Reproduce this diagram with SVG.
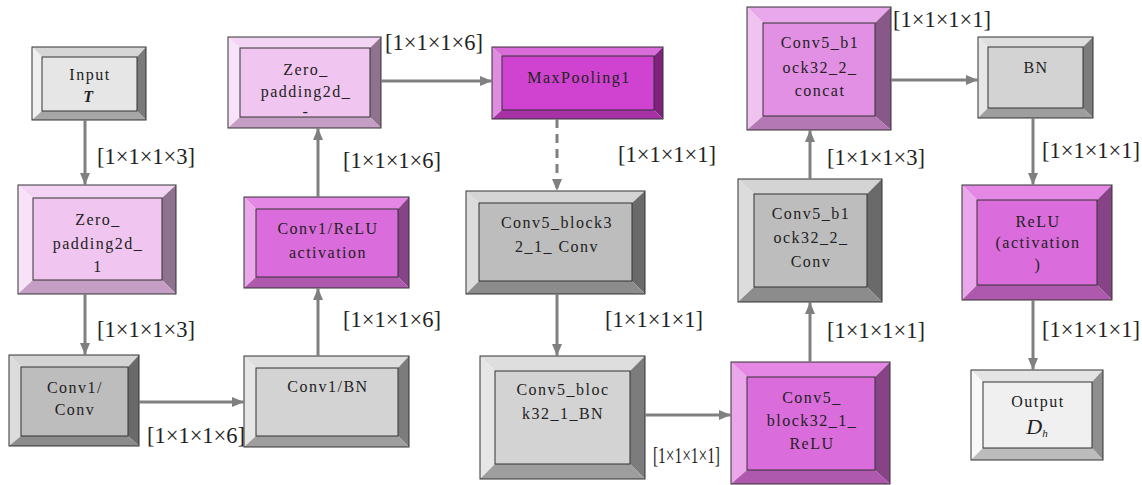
<svg xmlns="http://www.w3.org/2000/svg" width="1142" height="485" viewBox="0 0 1142 485">
<defs>
<marker id="ah" markerUnits="userSpaceOnUse" markerWidth="14" markerHeight="12" refX="12" refY="5" orient="auto">
<path d="M0,0 L12,5 L0,10 z" fill="#808080"/>
</marker>
<style>
text{font-family:'Liberation Serif','Times New Roman',serif}
.t{font-size:16px;fill:#222;text-anchor:middle;letter-spacing:1.5px}
.lb{font-size:22.5px;fill:#222}
.ed{stroke:#333;stroke-width:1;fill:none}
.cn path{stroke:#808080;stroke-width:3;fill:none;marker-end:url(#ah)}
.wg .f{fill:#e6e6e6}.wg .tp{fill:#d6d6d6}.wg .l{fill:#f0f0f0}.wg .r{fill:#7a7a7a}.wg .b{fill:#a6a6a6}
.pk .f{fill:#f0c6f0}.pk .tp{fill:#f4d4f4}.pk .l{fill:#f8e2f8}.pk .r{fill:#8e728e}.pk .b{fill:#c49ec4}
.dg .f{fill:#bdbdbd}.dg .tp{fill:#d4d4d4}.dg .l{fill:#dcdcdc}.dg .r{fill:#6a6a6a}.dg .b{fill:#8c8c8c}
.lg .f{fill:#d3d3d3}.lg .tp{fill:#dedede}.lg .l{fill:#e6e6e6}.lg .r{fill:#7c7c7c}.lg .b{fill:#9e9e9e}
.mg .f{fill:#db6cdb}.mg .tp{fill:#e588e5}.mg .l{fill:#eaa8ea}.mg .r{fill:#864486}.mg .b{fill:#ae58ae}
.mp .f{fill:#d042d0}.mp .tp{fill:#da6cda}.mp .l{fill:#e08ce0}.mp .r{fill:#7e227e}.mp .b{fill:#a632a6}
.cc .f{fill:#e290e4}.cc .tp{fill:#e9a8ec}.cc .l{fill:#f0c2f0}.cc .r{fill:#885888}.cc .b{fill:#b478b4}
.ow .f{fill:#f0f0f0}.ow .tp{fill:#e4e4e4}.ow .l{fill:#f8f8f8}.ow .r{fill:#8e8e8e}.ow .b{fill:#bcbcbc}
</style>
</defs>
<rect width="1142" height="485" fill="#fff"/>

<g id="input" class="wg">
<polygon class="tp" points="32,47 146,47 137,57 42,57"/><polygon class="l" points="32,47 42,57 42,111 32,120"/><polygon class="r" points="146,47 146,120 137,111 137,57"/><polygon class="b" points="32,120 42,111 137,111 146,120"/>
<rect class="f" x="42" y="57" width="95" height="54"/><rect class="ed" x="32" y="47" width="114" height="73"/><rect class="ed" x="42" y="57" width="95" height="54"/>
<text class="t" x="90" y="80">Input</text><text class="t" x="89" y="102" style="font-style:italic;font-weight:bold">T</text>
</g>

<g id="zp1" class="pk">
<polygon class="tp" points="18,185 176,185 162,198 33,198"/><polygon class="l" points="18,185 33,198 33,280 18,294"/><polygon class="r" points="176,185 176,294 162,280 162,198"/><polygon class="b" points="18,294 33,280 162,280 176,294"/>
<rect class="f" x="33" y="198" width="129" height="82"/><rect class="ed" x="18" y="185" width="158" height="109"/><rect class="ed" x="33" y="198" width="129" height="82"/>
<text class="t" x="98" y="225">Zero_</text><text class="t" x="98" y="249">padding2d_</text><text class="t" x="98" y="272">1</text>
</g>

<g id="conv1" class="dg">
<polygon class="tp" points="9,355 139,355 128,367 21,367"/><polygon class="l" points="9,355 21,367 21,436 9,446"/><polygon class="r" points="139,355 139,446 128,436 128,367"/><polygon class="b" points="9,446 21,436 128,436 139,446"/>
<rect class="f" x="21" y="367" width="107" height="69"/><rect class="ed" x="9" y="355" width="130" height="91"/><rect class="ed" x="21" y="367" width="107" height="69"/>
<text class="t" x="75" y="393">Conv1/</text><text class="t" x="75" y="415">Conv</text>
</g>

<g id="bn1" class="lg">
<polygon class="tp" points="244,356 409,356 398,368 256,368"/><polygon class="l" points="244,356 256,368 256,436 244,447"/><polygon class="r" points="409,356 409,447 398,436 398,368"/><polygon class="b" points="244,447 256,436 398,436 409,447"/>
<rect class="f" x="256" y="368" width="142" height="68"/><rect class="ed" x="244" y="356" width="165" height="91"/><rect class="ed" x="256" y="368" width="142" height="68"/>
<text class="t" x="328" y="392">Conv1/BN</text>
</g>

<g id="relu1" class="mg">
<polygon class="tp" points="244,197 409,197 398,209 256,209"/><polygon class="l" points="244,197 256,209 256,277 244,288"/><polygon class="r" points="409,197 409,288 398,277 398,209"/><polygon class="b" points="244,288 256,277 398,277 409,288"/>
<rect class="f" x="256" y="209" width="142" height="68"/><rect class="ed" x="244" y="197" width="165" height="91"/><rect class="ed" x="256" y="209" width="142" height="68"/>
<text class="t" x="328" y="234">Conv1/ReLU</text><text class="t" x="328" y="258">activation</text>
</g>

<g id="zp2" class="pk">
<polygon class="tp" points="228,37 381,37 370,48 240,48"/><polygon class="l" points="228,37 240,48 240,117 228,128"/><polygon class="r" points="381,37 381,128 370,117 370,48"/><polygon class="b" points="228,128 240,117 370,117 381,128"/>
<rect class="f" x="240" y="48" width="130" height="69"/><rect class="ed" x="228" y="37" width="153" height="91"/><rect class="ed" x="240" y="48" width="130" height="69"/>
<text class="t" x="306" y="75">Zero_</text><text class="t" x="306" y="97">padding2d_</text><text class="t" x="306" y="117">-</text>
</g>

<g id="maxpool" class="mp">
<polygon class="tp" points="492,47 663,47 654,56 502,56"/><polygon class="l" points="492,47 502,56 502,110 492,119"/><polygon class="r" points="663,47 663,119 654,110 654,56"/><polygon class="b" points="492,119 502,110 654,110 663,119"/>
<rect class="f" x="502" y="56" width="152" height="54"/><rect class="ed" x="492" y="47" width="171" height="72"/><rect class="ed" x="502" y="56" width="152" height="54"/>
<text class="t" x="579" y="83">MaxPooling1</text>
</g>

<g id="c5conv1" class="dg">
<polygon class="tp" points="466,191 645,191 632,203 479,203"/><polygon class="l" points="466,191 479,203 479,281 466,294"/><polygon class="r" points="645,191 645,294 632,281 632,203"/><polygon class="b" points="466,294 479,281 632,281 645,294"/>
<rect class="f" x="479" y="203" width="153" height="78"/><rect class="ed" x="466" y="191" width="179" height="103"/><rect class="ed" x="479" y="203" width="153" height="78"/>
<text class="t" x="557" y="228">Conv5_block3</text><text class="t" x="557" y="252">2_1_ Conv</text>
</g>

<g id="c5bn1" class="lg">
<polygon class="tp" points="480,356 645,356 630,371 495,371"/><polygon class="l" points="480,356 495,371 495,464 480,479"/><polygon class="r" points="645,356 645,479 630,464 630,371"/><polygon class="b" points="480,479 495,464 630,464 645,479"/>
<rect class="f" x="495" y="371" width="135" height="93"/><rect class="ed" x="480" y="356" width="165" height="123"/><rect class="ed" x="495" y="371" width="135" height="93"/>
<text class="t" x="563" y="395">Conv5_bloc</text><text class="t" x="563" y="419">k32_1_BN</text>
</g>

<g id="c5relu1" class="mg">
<polygon class="tp" points="731,362 890,362 875,377 747,377"/><polygon class="l" points="731,362 747,377 747,470 731,484"/><polygon class="r" points="890,362 890,484 875,470 875,377"/><polygon class="b" points="731,484 747,470 875,470 890,484"/>
<rect class="f" x="747" y="377" width="128" height="93"/><rect class="ed" x="731" y="362" width="159" height="122"/><rect class="ed" x="747" y="377" width="128" height="93"/>
<text class="t" x="812" y="403">Conv5_</text><text class="t" x="812" y="426">block32_1_</text><text class="t" x="812" y="449">ReLU</text>
</g>

<g id="c5conv2" class="dg">
<polygon class="tp" points="738,179 882,179 867,194 754,194"/><polygon class="l" points="738,179 754,194 754,287 738,302"/><polygon class="r" points="882,179 882,302 867,287 867,194"/><polygon class="b" points="738,302 754,287 867,287 882,302"/>
<rect class="f" x="754" y="194" width="113" height="93"/><rect class="ed" x="738" y="179" width="144" height="123"/><rect class="ed" x="754" y="194" width="113" height="93"/>
<text class="t" x="811" y="219">Conv5_b1</text><text class="t" x="811" y="243">ock32_2_</text><text class="t" x="811" y="267">Conv</text>
</g>

<g id="concat" class="cc">
<polygon class="tp" points="747,7 891,7 875,23 763,23"/><polygon class="l" points="747,7 763,23 763,116 747,130"/><polygon class="r" points="891,7 891,130 875,116 875,23"/><polygon class="b" points="747,130 763,116 875,116 891,130"/>
<rect class="f" x="763" y="23" width="112" height="93"/><rect class="ed" x="747" y="7" width="144" height="123"/><rect class="ed" x="763" y="23" width="112" height="93"/>
<text class="t" x="820" y="48">Conv5_b1</text><text class="t" x="820" y="73">ock32_2_</text><text class="t" x="820" y="96">concat</text>
</g>

<g id="bn2" class="lg">
<polygon class="tp" points="978,37 1093,37 1083,47 988,47"/><polygon class="l" points="978,37 988,47 988,108 978,118"/><polygon class="r" points="1093,37 1093,118 1083,108 1083,47"/><polygon class="b" points="978,118 988,108 1083,108 1093,118"/>
<rect class="f" x="988" y="47" width="95" height="61"/><rect class="ed" x="978" y="37" width="115" height="81"/><rect class="ed" x="988" y="47" width="95" height="61"/>
<text class="t" x="1036" y="73">BN</text>
</g>

<g id="relu2" class="mg">
<polygon class="tp" points="962,185 1112,185 1097,200 977,200"/><polygon class="l" points="962,185 977,200 977,285 962,300"/><polygon class="r" points="1112,185 1112,300 1097,285 1097,200"/><polygon class="b" points="962,300 977,285 1097,285 1112,300"/>
<rect class="f" x="977" y="200" width="120" height="85"/><rect class="ed" x="962" y="185" width="150" height="115"/><rect class="ed" x="977" y="200" width="120" height="85"/>
<text class="t" x="1038" y="227">ReLU</text><text class="t" x="1038" y="248">(activation</text><text class="t" x="1038" y="270">)</text>
</g>

<g id="output" class="ow">
<polygon class="tp" points="971,370 1103,370 1092,382 983,382"/><polygon class="l" points="971,370 983,382 983,448 971,460"/><polygon class="r" points="1103,370 1103,460 1092,448 1092,382"/><polygon class="b" points="971,460 983,448 1092,448 1103,460"/>
<rect class="f" x="983" y="382" width="109" height="66"/><rect class="ed" x="971" y="370" width="132" height="90"/><rect class="ed" x="983" y="382" width="109" height="66"/>
<text class="t" x="1038" y="407">Output</text>
<text x="1037" y="434" font-size="22" font-style="italic" fill="#222" text-anchor="middle">D<tspan font-size="11" dy="3">h</tspan></text>
</g>

<g id="connectors" class="cn">
<path d="M85,120 V185"/>
<path d="M85,294 V355"/>
<path d="M139,402 H244"/>
<path d="M318,356 V288"/>
<path d="M318,197 V128"/>
<path d="M381,81 H492"/>
<path d="M557,119 V191" stroke-dasharray="9,6"/>
<path d="M557,294 V356"/>
<path d="M645,415 H731"/>
<path d="M810,362 V302"/>
<path d="M810,179 V130"/>
<path d="M891,80 H978"/>
<path d="M1033,118 V185"/>
<path d="M1033,300 V370"/>
</g>

<g id="labels">
<text class="lb" x="97" y="164">[1×1×1×3]</text>
<text class="lb" x="97" y="337">[1×1×1×3]</text>
<text class="lb" x="147" y="443">[1×1×1×6]</text>
<text class="lb" x="385" y="50">[1×1×1×6]</text>
<text class="lb" x="343" y="168">[1×1×1×6]</text>
<text class="lb" x="343" y="327">[1×1×1×6]</text>
<text class="lb" x="618" y="162">[1×1×1×1]</text>
<text class="lb" x="605" y="327">[1×1×1×1]</text>
<text class="lb" x="653" y="463" textLength="67" lengthAdjust="spacingAndGlyphs">[1×1×1×1]</text>
<text class="lb" x="827" y="338">[1×1×1×1]</text>
<text class="lb" x="827" y="165">[1×1×1×3]</text>
<text class="lb" x="893" y="27">[1×1×1×1]</text>
<text class="lb" x="1042" y="158">[1×1×1×1]</text>
<text class="lb" x="1042" y="337">[1×1×1×1]</text>
</g>
</svg>
